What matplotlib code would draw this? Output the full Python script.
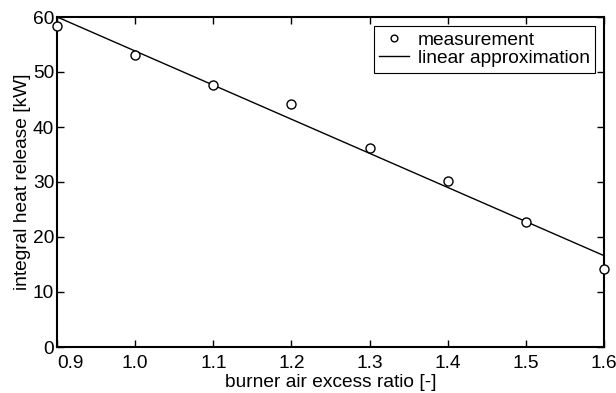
import numpy as np
from matplotlib import pyplot as plt

plt.rcParams['font.family'] = ['Liberation Sans', 'DejaVu Sans']

# burner air excess ratio and measured heat release
air_ratio = [0.9, 1.0, 1.1, 1.2, 1.3, 1.4, 1.5, 1.6]
heat_release = [58.3, 53.1, 47.6, 44.2, 36.2, 30.2, 22.7, 14.2]
x_ticks = [0.9, 1.0, 1.1, 1.2, 1.3, 1.4, 1.5, 1.6]
y_ticks = [0, 10, 20, 30, 40, 50, 60]

# linear approximation (least squares)
coef = np.polyfit(air_ratio, heat_release, 1)
x_fit = np.array([min(air_ratio), max(air_ratio)])

fs = 13.8

fig = plt.figure(figsize=(6.16, 3.93), dpi=100)
ax = fig.add_axes([57 / 616, 1 - 347 / 393, 547 / 616, 330 / 393])

ax.plot(air_ratio, heat_release, 'o', mfc='white', mec='black', ms=6.5,
        mew=1.0, clip_on=False, zorder=3, label='measurement')
ax.plot(x_fit, np.polyval(coef, x_fit), '-', color='black', lw=1.0,
        label='linear approximation')

ax.set_xlim(0.9, 1.6)
ax.set_ylim(0, 60)
ax.set_xticks(x_ticks)
ax.set_xticklabels([f'{t:.1f}' for t in x_ticks])
ax.set_yticks(y_ticks)
ax.get_xticklabels()[0].set_horizontalalignment('left')

ax.tick_params(direction='in', top=True, right=True, length=5, width=1,
               labelsize=fs)
ax.tick_params(axis='x', pad=6)
ax.tick_params(axis='y', pad=2)
for spine in ax.spines.values():
    spine.set_linewidth(1.5)

ax.set_xlabel('burner air excess ratio [-]', fontsize=fs, labelpad=1.5)
ax.set_ylabel('integral heat release [kW]', fontsize=fs, labelpad=1)

leg = ax.legend(loc='upper right', fontsize=fs, frameon=True, fancybox=False,
                edgecolor='black', framealpha=1, borderpad=0.3,
                labelspacing=0.05, handlelength=1.55, handletextpad=0.45,
                borderaxespad=0.45, markerscale=0.75)
leg.get_frame().set_linewidth(0.8)

fig.savefig('out.png', dpi=100)
